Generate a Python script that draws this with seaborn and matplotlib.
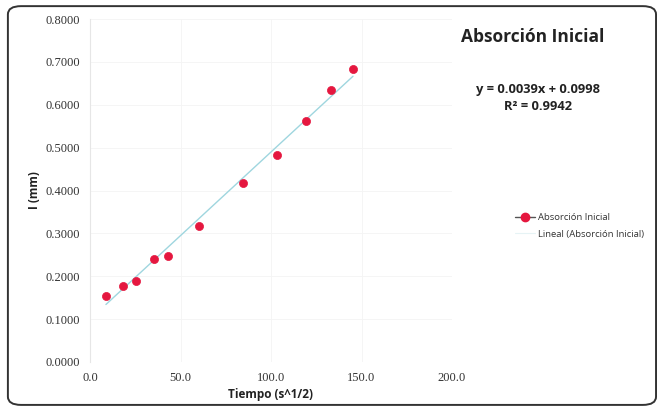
import numpy as np
import pandas as pd
import matplotlib
matplotlib.use("Agg")
import matplotlib.pyplot as plt
import seaborn as sns
from matplotlib.lines import Line2D
from matplotlib.patches import FancyBboxPatch

# ---- data ----
tiempo = [8.8, 18.3, 25.4, 35.6, 43.0, 60.0, 84.4, 103.3, 119.3, 133.2, 145.3]
absorcion = [0.154, 0.177, 0.189, 0.240, 0.247, 0.318, 0.417, 0.482, 0.561, 0.634, 0.684]
slope = 0.0039
intercept = 0.0998
x_ticks = [0.0, 50.0, 100.0, 150.0, 200.0]
y_ticks = [0.0, 0.1, 0.2, 0.3, 0.4, 0.5, 0.6, 0.7, 0.8]
title = "Absorción Inicial"
eq_text = "y = 0.0039x + 0.0998"
r2_text = "R² = 0.9942"
series_label = "Absorción Inicial"
trend_label = "Lineal (Absorción Inicial)"
x_label = "Tiempo (s^1/2)"
y_label = "I (mm)"

df = pd.DataFrame({"t": tiempo, "a": absorcion})
trend = pd.DataFrame({"t": [tiempo[0], tiempo[-1]]})
trend["a"] = slope * trend["t"] + intercept

sns.set_theme(style="white")
plt.rcParams["font.family"] = ["Open Sans", "DejaVu Sans"]

fig = plt.figure(figsize=(6.58, 4.09), dpi=100)
fig.patch.set_facecolor("white")
ax = fig.add_axes([90 / 658, 1 - 362 / 409, (452 - 90) / 658, (362 - 19) / 409])

red = "#e5173f"
blue = "#9fd6df"

sns.lineplot(data=trend, x="t", y="a", ax=ax, color=blue, linewidth=1.0, zorder=2)
sns.scatterplot(data=df, x="t", y="a", ax=ax, color=red, s=34, edgecolor=red,
                linewidth=0.5, zorder=3)

ax.set_xlim(0, 200)
ax.set_ylim(0, 0.8)
ax.set_xticks(x_ticks)
ax.set_yticks(y_ticks)
ax.set_xticklabels([f"{v:.1f}" for v in x_ticks], family="Liberation Serif",
                   fontsize=9, color="#333333")
ax.set_yticklabels([f"{v:.4f}" for v in y_ticks], family="Liberation Serif",
                   fontsize=9, color="#333333")
ax.tick_params(axis="both", length=0, pad=7)
for s in ["top", "right", "bottom"]:
    ax.spines[s].set_visible(False)
ax.spines["left"].set_color("#e6e6e6")
ax.spines["left"].set_linewidth(0.8)
ax.grid(True, color="#f4f4f4", linewidth=0.6)

ax.set_xlabel(x_label, fontsize=8.5, fontweight="bold", color="#222222", labelpad=3)
ax.set_ylabel(y_label, fontsize=8.5, fontweight="bold", color="#222222", labelpad=3)

fig.text(533 / 658, 1 - 37 / 409, title, fontsize=12.5, fontweight="bold",
         color="#222222", ha="center", va="center")
fig.text(538 / 658, 1 - 89 / 409, eq_text, fontsize=9.3, fontweight="bold",
         color="#222222", ha="center", va="center")
fig.text(538 / 658, 1 - 106 / 409, r2_text, fontsize=9.3, fontweight="bold",
         color="#222222", ha="center", va="center")

handles = [
    Line2D([0], [0], color="#555555", linewidth=1.0, marker="o",
           markerfacecolor=red, markeredgecolor=red, markersize=6),
    Line2D([0], [0], color="#e6f3f5", linewidth=0.8),
]
leg = fig.legend(handles, [series_label, trend_label], loc="center left",
                 bbox_to_anchor=(506 / 658, 1 - 226 / 409), frameon=False,
                 fontsize=6.8, handlelength=2.2, handletextpad=0.3,
                 labelspacing=0.8)
for t in leg.get_texts():
    t.set_color("#333333")

border = FancyBboxPatch((0.012, 0.01), 0.985, 0.975,
                        boxstyle="round,pad=0,rounding_size=0.02",
                        transform=fig.transFigure, fill=False,
                        edgecolor="#333333", linewidth=1.4)
fig.patches.append(border)

fig.savefig("out.png", dpi=100, facecolor="white")
